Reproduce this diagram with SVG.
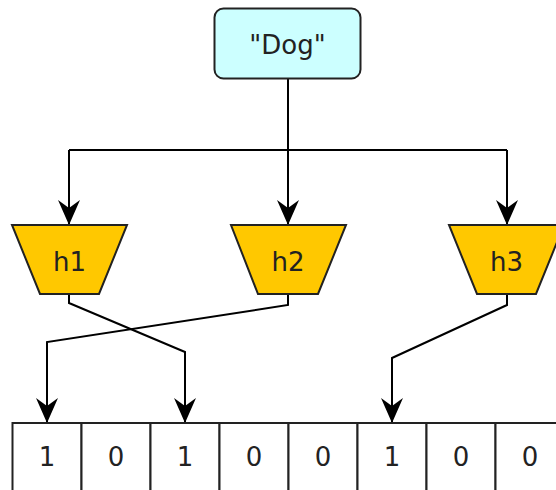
<svg xmlns="http://www.w3.org/2000/svg" width="556" height="490" viewBox="0 0 556 490">
<defs>
<style>
.lbl{font-family:"DejaVu Sans",sans-serif;font-size:26px;fill:#222;text-anchor:middle}
.hash{fill:#ffc800;stroke:#222;stroke-width:2;stroke-linejoin:miter}
.cell{fill:#fff;stroke:#222;stroke-width:2}
.edge{fill:none;stroke:#000;stroke-width:2}
</style>
<marker id="arr" viewBox="0 0 26 24" refX="25" refY="12" markerWidth="26" markerHeight="24" markerUnits="userSpaceOnUse" orient="auto">
<path d="M1,1 L9,12 L1,23 L26,12 Z" fill="#000"/>
</marker>
</defs>
<rect width="556" height="490" fill="#fff"/>
<g id="connectors">
<path class="edge" d="M288,79 V150"/>
<path class="edge" d="M69,150 H507"/>
<path class="edge" d="M69,150 V224" marker-end="url(#arr)"/>
<path class="edge" d="M288,150 V224" marker-end="url(#arr)"/>
<path class="edge" d="M507,150 V224" marker-end="url(#arr)"/>
<path class="edge" d="M69,294 V303 L185,352 V422" marker-end="url(#arr)"/>
<path class="edge" d="M288,294 V305 L47,342 V422" marker-end="url(#arr)"/>
<path class="edge" d="M507,294 V305 L392,358 V422" marker-end="url(#arr)"/>
</g>
<g id="dog">
<rect x="214.5" y="8.5" width="146" height="70" rx="9" fill="#ccffff" stroke="#222" stroke-width="2"/>
<text class="lbl" x="287.5" y="54">"Dog"</text>
</g>
<g id="h1">
<polygon class="hash" points="12,225 127,225 99,294 40,294"/>
<text class="lbl" x="69.5" y="271">h1</text>
</g>
<g id="h2">
<polygon class="hash" points="231,225 346,225 318,294 258,294"/>
<text class="lbl" x="288" y="271">h2</text>
</g>
<g id="h3">
<polygon class="hash" points="449,225 564,225 536,294 477,294"/>
<text class="lbl" x="506.5" y="271">h3</text>
</g>
<g id="bitarray">
<rect class="cell" x="12.5" y="423" width="69" height="80"/>
<rect class="cell" x="81.5" y="423" width="69" height="80"/>
<rect class="cell" x="150.5" y="423" width="69" height="80"/>
<rect class="cell" x="219.5" y="423" width="69" height="80"/>
<rect class="cell" x="288.5" y="423" width="69" height="80"/>
<rect class="cell" x="357.5" y="423" width="69" height="80"/>
<rect class="cell" x="426.5" y="423" width="69" height="80"/>
<rect class="cell" x="495.5" y="423" width="69" height="80"/>
<text class="lbl" x="47" y="466">1</text>
<text class="lbl" x="116" y="466">0</text>
<text class="lbl" x="185" y="466">1</text>
<text class="lbl" x="254" y="466">0</text>
<text class="lbl" x="323" y="466">0</text>
<text class="lbl" x="392" y="466">1</text>
<text class="lbl" x="461" y="466">0</text>
<text class="lbl" x="530" y="466">0</text>
</g>
</svg>
